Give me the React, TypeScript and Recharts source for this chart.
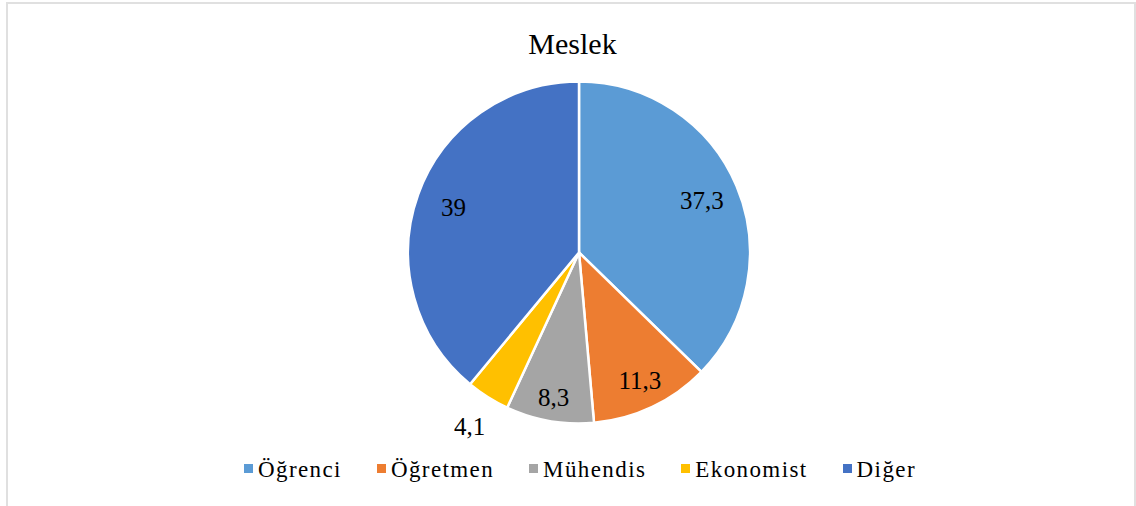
import React from 'react';
import { PieChart, Pie, Cell, Legend } from 'recharts';

const categories = ['Öğrenci', 'Öğretmen', 'Mühendis', 'Ekonomist', 'Diğer'];
const values = [37.3, 11.3, 8.3, 4.1, 39];
const colors = ['#5B9BD5', '#ED7D31', '#A5A5A5', '#FFC000', '#4472C4'];
const title = 'Meslek';

const FONT = 'Liberation Serif';
const RAD = Math.PI / 180;

const data = categories.map((name, i) => ({ name, value: values[i] }));

// Excel "best fit" style: big slices inside, tiny slice pushed outside
const labelFactor = (v: number) => {
  if (v < 5) return 1.2;
  if (v < 10) return 0.86;
  if (v < 30) return 0.83;
  return 0.78;
};

const renderLabel = (props: any) => {
  const { cx, cy, midAngle, outerRadius, value } = props;
  const r = outerRadius * labelFactor(value);
  const x = cx + r * Math.cos(-midAngle * RAD);
  const y = cy + r * Math.sin(-midAngle * RAD);
  return (
    <text x={x} y={y} textAnchor="middle" dominantBaseline="central" fill="#000" fontFamily={FONT} fontSize={25}>
      {String(value).replace('.', ',')}
    </text>
  );
};

const renderLegend = () => (
  <div
    style={{
      display: 'flex',
      justifyContent: 'center',
      alignItems: 'center',
      gap: 35,
      paddingLeft: 24,
      fontFamily: FONT,
      fontSize: 23,
      lineHeight: '23px',
      letterSpacing: 1.4,
      color: '#000',
    }}
  >
    {categories.map((c, i) => (
      <div key={c} style={{ display: 'flex', alignItems: 'center' }}>
        <span style={{ display: 'inline-block', width: 9, height: 9, background: colors[i], marginRight: 5, marginTop: -2 }} />
        <span>{c}</span>
      </div>
    ))}
  </div>
);

export default function App() {
  return (
    <div style={{ position: 'fixed', left: 0, top: 0, width: 1136, height: 506, background: '#fff', overflow: 'hidden' }}>
      <div style={{ position: 'absolute', left: 6, top: 2, width: 1130, height: 530, boxSizing: 'border-box', border: '2px solid #e0e0e0' }} />
      <div
        style={{
          position: 'absolute',
          left: 472.5,
          top: 29,
          width: 200,
          textAlign: 'center',
          fontFamily: FONT,
          fontSize: 30,
          lineHeight: '30px',
          color: '#000',
        }}
      >
        {title}
      </div>
      <div style={{ position: 'absolute', left: 0, top: 0 }}>
        <PieChart width={1136} height={506} margin={{ top: 0, right: 0, bottom: 0, left: 0 }}>
          <Pie
            data={data}
            dataKey="value"
            nameKey="name"
            cx={579}
            cy={252.5}
            outerRadius={171}
            startAngle={90}
            endAngle={-270}
            stroke="#fff"
            strokeWidth={2.5}
            label={renderLabel}
            labelLine={false}
            isAnimationActive={false}
          >
            {data.map((d, i) => (
              <Cell key={d.name} fill={colors[i]} />
            ))}
          </Pie>
          <Legend content={renderLegend} wrapperStyle={{ position: 'absolute', left: 0, top: 458, width: 1136 }} />
        </PieChart>
      </div>
    </div>
  );
}
